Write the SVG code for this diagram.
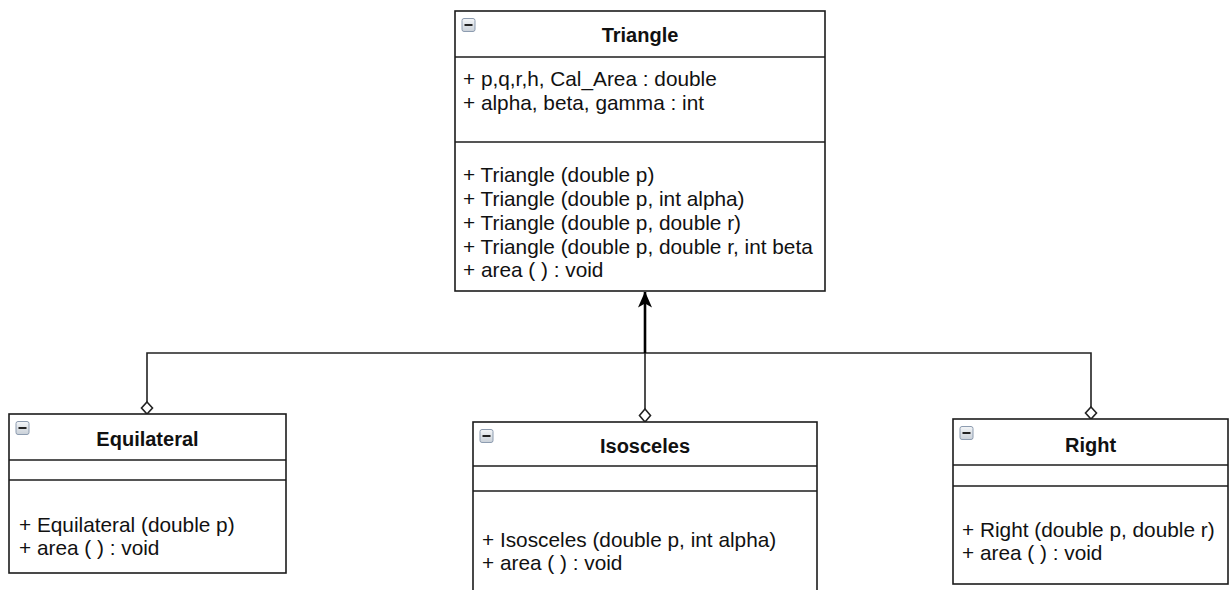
<svg xmlns="http://www.w3.org/2000/svg" width="1232" height="590" viewBox="0 0 1232 590">
<style>
.box{fill:#ffffff;stroke:#1c1c1c;stroke-width:1.6}
.div{stroke:#1c1c1c;stroke-width:1.6}
.title{font-family:"Liberation Sans",Arial,sans-serif;font-size:20px;font-weight:bold;fill:#111;text-anchor:middle}
.mem{font-family:"Liberation Sans",Arial,sans-serif;font-size:20.8px;fill:#111}
.conn{fill:none;stroke:#222;stroke-width:1.6}
.dia{fill:#ffffff;stroke:#222;stroke-width:1.6}
.icon{fill:url(#ig);stroke:#8d9cb0;stroke-width:1}
.minus{stroke:#222;stroke-width:2}
</style>
<defs>
<linearGradient id="ig" x1="0" y1="0" x2="0" y2="1">
<stop offset="0" stop-color="#f4f6f8"/>
<stop offset="1" stop-color="#c9d0d8"/>
</linearGradient>
<marker id="arr" markerUnits="userSpaceOnUse" markerWidth="16" markerHeight="14" viewBox="0 0 16 14" refX="15.5" refY="7" orient="auto">
<path d="M0,0 L16,7 L0,14 L4,7 Z" fill="#000"/>
</marker>
</defs>

<g id="connectors">
<path class="conn" d="M147,402 V353 H1091 V407"/>
<path class="conn" d="M645,353 V409"/>
<path d="M645,353 V292" fill="none" stroke="#000" stroke-width="2.6" marker-end="url(#arr)"/>
<polygon class="dia" points="147,402 152.5,408 147,414 141.5,408"/>
<polygon class="dia" points="645,409 650.5,415.5 645,422 639.5,415.5"/>
<polygon class="dia" points="1091,407 1096.5,413 1091,419 1085.5,413"/>
</g>

<g id="Triangle">
<rect class="box" x="455" y="11" width="370" height="280"/>
<line class="div" x1="455" y1="57" x2="825" y2="57"/>
<line class="div" x1="455" y1="142" x2="825" y2="142"/>
<rect class="icon" x="462" y="18.5" width="13" height="13" rx="2"/>
<line class="minus" x1="464.5" y1="25" x2="472.5" y2="25"/>
<text class="title" x="640" y="42">Triangle</text>
<text class="mem" x="463" y="86">+ p,q,r,h, Cal_Area : double</text>
<text class="mem" x="463" y="109.5">+ alpha, beta, gamma : int</text>
<text class="mem" x="463" y="182">+ Triangle (double p)</text>
<text class="mem" x="463" y="206">+ Triangle (double p, int alpha)</text>
<text class="mem" x="463" y="230">+ Triangle (double p, double r)</text>
<text class="mem" x="463" y="253.5">+ Triangle (double p, double r, int beta</text>
<text class="mem" x="463" y="277">+ area ( ) : void</text>
</g>

<g id="Equilateral">
<rect class="box" x="9" y="414" width="277" height="159"/>
<line class="div" x1="9" y1="460" x2="286" y2="460"/>
<line class="div" x1="9" y1="480" x2="286" y2="480"/>
<rect class="icon" x="16" y="421.5" width="13" height="13" rx="2"/>
<line class="minus" x1="18.5" y1="428" x2="26.5" y2="428"/>
<text class="title" x="147.5" y="446">Equilateral</text>
<text class="mem" x="19" y="532">+ Equilateral (double p)</text>
<text class="mem" x="19" y="555">+ area ( ) : void</text>
</g>

<g id="Isosceles">
<rect class="box" x="473" y="422" width="344" height="200"/>
<line class="div" x1="473" y1="466" x2="817" y2="466"/>
<line class="div" x1="473" y1="491" x2="817" y2="491"/>
<rect class="icon" x="480" y="429.5" width="13" height="13" rx="2"/>
<line class="minus" x1="482.5" y1="436" x2="490.5" y2="436"/>
<text class="title" x="645" y="453">Isosceles</text>
<text class="mem" x="482" y="547">+ Isosceles (double p, int alpha)</text>
<text class="mem" x="482" y="570">+ area ( ) : void</text>
</g>

<g id="Right">
<rect class="box" x="953" y="419" width="275" height="165"/>
<line class="div" x1="953" y1="465" x2="1228" y2="465"/>
<line class="div" x1="953" y1="486" x2="1228" y2="486"/>
<rect class="icon" x="960" y="426.5" width="13" height="13" rx="2"/>
<line class="minus" x1="962.5" y1="433" x2="970.5" y2="433"/>
<text class="title" x="1090.5" y="452">Right</text>
<text class="mem" x="962" y="537">+ Right (double p, double r)</text>
<text class="mem" x="962" y="560">+ area ( ) : void</text>
</g>
</svg>
